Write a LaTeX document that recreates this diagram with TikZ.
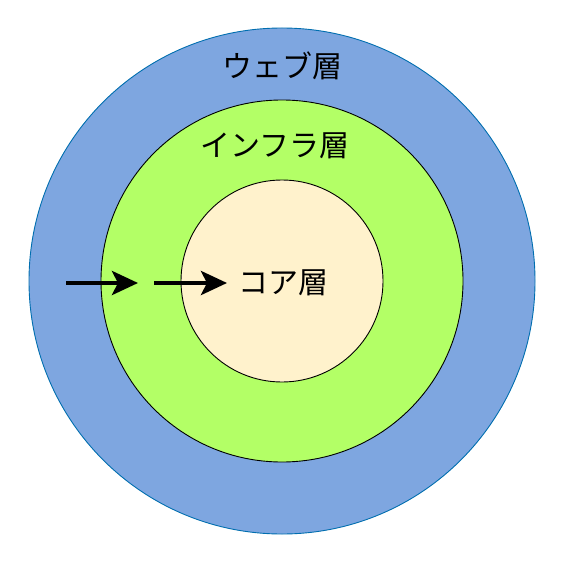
\documentclass[tikz,border=0pt]{standalone}
\usepackage{fontspec}
\newfontfamily\jpfont{Noto Sans CJK JP}
\usetikzlibrary{arrows.meta}
\definecolor{webfill}{HTML}{7EA6E0}
\definecolor{webline}{HTML}{006EAF}
\definecolor{infrafill}{HTML}{B3FF66}
\definecolor{corefill}{HTML}{FFF2CC}
\tikzset{
  layer/.style={circle, inner sep=0pt, line width=0.9pt},
  layerlabel/.style={font=\jpfont\fontsize{30}{32}\selectfont, inner sep=0pt},
  flow/.style={line width=4.5pt, -{Stealth[length=26pt, width=24pt, inset=6pt]}}
}
\begin{document}
\begin{tikzpicture}[x=1pt, y=-1pt]
			\useasboundingbox (0, 0) rectangle (569, 561);
			
			\node[layer, draw=webline, fill=webfill, minimum size=506pt] (web) at (282, 281) {};
			\node[layer, draw=black, fill=infrafill, minimum size=362pt] (infra) at (282, 281) {};
			\node[layer, draw=black, fill=corefill, minimum size=202pt] (core) at (282, 281) {};
			
			\node[layerlabel] (weblabel) at (282, 66) {ウェブ層};
			\node[layerlabel] (infralabel) at (275, 146) {インフラ層};
			\node[layerlabel] (corelabel) at (283, 283) {コア層};
			
			\coordinate (a1) at (66, 283);
			\coordinate (a2) at (138, 283);
			\coordinate (b1) at (154, 283);
			\coordinate (b2) at (227, 283);
			
			\draw[flow] (a1) -- (a2);
			\draw[flow] (b1) -- (b2);
		\end{tikzpicture}
\end{document}
